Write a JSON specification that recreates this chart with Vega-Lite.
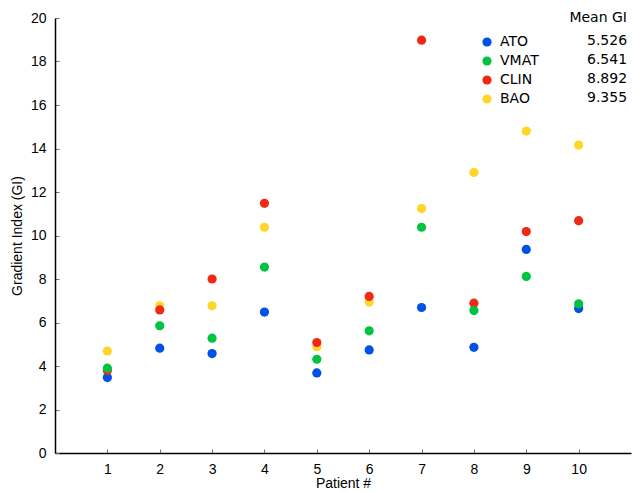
{
  "$schema": "https://vega.github.io/schema/vega-lite/v6.json",
  "width": 576,
  "height": 435,
  "autosize": {"type": "none"},
  "padding": {"left": 55, "top": 18, "right": 2, "bottom": 38},
  "background": "white",
  "config": {
    "view": {"stroke": null},
    "axis": {
      "grid": false,
      "domainColor": "black",
      "domainWidth": 1.5,
      "tickColor": "#707070",
      "tickSize": -4,
      "tickWidth": 1,
      "labelFont": "Liberation Sans",
      "labelFontSize": 14,
      "labelColor": "black",
      "labelFlush": false,
      "titleFont": "Liberation Sans",
      "titleFontSize": 14,
      "titleFontWeight": "normal",
      "titleColor": "black"
    }
  },
  "datasets": {
    "means": [
      {"method": "ATO", "mean": "5.526"},
      {"method": "VMAT", "mean": "6.541"},
      {"method": "CLIN", "mean": "8.892"},
      {"method": "BAO", "mean": "9.355"}
    ]
  },
  "data": {
    "values": [
      {"patient": 1, "method": "BAO", "gi": 4.69},
      {"patient": 2, "method": "BAO", "gi": 6.77},
      {"patient": 3, "method": "BAO", "gi": 6.77},
      {"patient": 4, "method": "BAO", "gi": 10.38},
      {"patient": 5, "method": "BAO", "gi": 4.89},
      {"patient": 6, "method": "BAO", "gi": 6.94},
      {"patient": 7, "method": "BAO", "gi": 11.24},
      {"patient": 8, "method": "BAO", "gi": 12.9},
      {"patient": 9, "method": "BAO", "gi": 14.8},
      {"patient": 10, "method": "BAO", "gi": 14.16},
      {"patient": 1, "method": "ATO", "gi": 3.47},
      {"patient": 2, "method": "ATO", "gi": 4.82},
      {"patient": 3, "method": "ATO", "gi": 4.57},
      {"patient": 4, "method": "ATO", "gi": 6.48},
      {"patient": 5, "method": "ATO", "gi": 3.68},
      {"patient": 6, "method": "ATO", "gi": 4.74},
      {"patient": 7, "method": "ATO", "gi": 6.69},
      {"patient": 8, "method": "ATO", "gi": 4.86},
      {"patient": 9, "method": "ATO", "gi": 9.36},
      {"patient": 10, "method": "ATO", "gi": 6.64},
      {"patient": 1, "method": "CLIN", "gi": 3.79},
      {"patient": 2, "method": "CLIN", "gi": 6.58},
      {"patient": 3, "method": "CLIN", "gi": 8.0},
      {"patient": 4, "method": "CLIN", "gi": 11.48},
      {"patient": 5, "method": "CLIN", "gi": 5.08},
      {"patient": 6, "method": "CLIN", "gi": 7.2},
      {"patient": 7, "method": "CLIN", "gi": 18.98},
      {"patient": 8, "method": "CLIN", "gi": 6.89},
      {"patient": 9, "method": "CLIN", "gi": 10.18},
      {"patient": 10, "method": "CLIN", "gi": 10.68},
      {"patient": 1, "method": "VMAT", "gi": 3.9},
      {"patient": 2, "method": "VMAT", "gi": 5.85},
      {"patient": 3, "method": "VMAT", "gi": 5.28},
      {"patient": 4, "method": "VMAT", "gi": 8.55},
      {"patient": 5, "method": "VMAT", "gi": 4.31},
      {"patient": 6, "method": "VMAT", "gi": 5.62},
      {"patient": 7, "method": "VMAT", "gi": 10.38},
      {"patient": 8, "method": "VMAT", "gi": 6.55},
      {"patient": 9, "method": "VMAT", "gi": 8.12},
      {"patient": 10, "method": "VMAT", "gi": 6.86}
    ]
  },
  "transform": [
    {"lookup": "method", "from": {"data": {"name": "means"}, "key": "method", "fields": ["mean"]}}
  ],
  "mark": {"type": "point", "filled": true, "size": 85, "opacity": 1, "strokeWidth": 0},
  "encoding": {
    "x": {
      "field": "patient",
      "type": "quantitative",
      "scale": {"domain": [0, 11], "nice": false, "zero": false},
      "axis": {"values": [1, 2, 3, 4, 5, 6, 7, 8, 9, 10], "title": "Patient #", "labelPadding": 13, "titlePadding": 0}
    },
    "y": {
      "field": "gi",
      "type": "quantitative",
      "scale": {"domain": [0, 20], "nice": false},
      "axis": {"values": [0, 2, 4, 6, 8, 10, 12, 14, 16, 18, 20], "title": "Gradient Index (GI)", "labelPadding": 13, "titlePadding": 6}
    },
    "color": {
      "field": "method",
      "type": "nominal",
      "scale": {"domain": ["ATO", "VMAT", "CLIN", "BAO"], "range": ["#0052E6", "#00C43F", "#F02814", "#FFD628"]},
      "legend": {
        "orient": "none",
        "legendX": 425,
        "legendY": 17,
        "title": null,
        "padding": 0,
        "symbolType": "circle",
        "symbolSize": 85,
        "symbolStrokeWidth": 0,
        "labelFont": "DejaVu Sans",
        "labelFontSize": 14,
        "labelColor": "black",
        "labelOffset": 6,
        "rowPadding": 5
      }
    },
    "shape": {
      "field": "mean",
      "type": "nominal",
      "scale": {"domain": ["5.526", "6.541", "8.892", "9.355"], "range": ["circle", "circle", "circle", "circle"]},
      "legend": {
        "orient": "none",
        "legendX": 514,
        "legendY": -7,
        "title": "Mean GI",
        "titleAnchor": "end",
        "titleFont": "DejaVu Sans",
        "titleFontSize": 14,
        "titleFontWeight": "normal",
        "titleColor": "black",
        "titlePadding": 9,
        "padding": 0,
        "symbolOpacity": 0,
        "symbolStrokeWidth": 0,
        "symbolSize": 1,
        "labelOffset": 0,
        "labelFont": "DejaVu Sans",
        "labelFontSize": 14,
        "labelColor": "black",
        "labelExpr": "'\u00a0\u00a0\u00a0\u00a0' + datum.label",
        "rowPadding": 5
      }
    }
  }
}
